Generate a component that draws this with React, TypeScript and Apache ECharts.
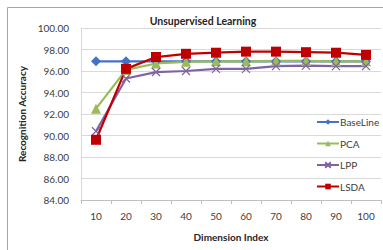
import React, { useEffect, useRef } from "react";
import * as echarts from "echarts";

const categories = ["10", "20", "30", "40", "50", "60", "70", "80", "90", "100"];
const baseLine = [96.9, 96.9, 96.9, 96.9, 96.9, 96.9, 96.9, 96.9, 96.9, 96.9];
const pca = [92.5, 96.1, 96.7, 96.85, 96.9, 96.9, 96.95, 96.95, 96.9, 96.9];
const lpp = [90.4, 95.3, 95.9, 96.0, 96.2, 96.2, 96.45, 96.5, 96.45, 96.45];
const lsda = [89.6, 96.2, 97.3, 97.6, 97.7, 97.8, 97.8, 97.75, 97.7, 97.5];
const seriesNames = ["BaseLine", "PCA", "LPP", "LSDA"];

const FONT = "Lato, 'Open Sans', sans-serif";

export default function App() {
  const ref = useRef<HTMLDivElement>(null);
  useEffect(() => {
    if (!ref.current) return;
    const chart = echarts.init(ref.current, null, { renderer: "svg" });
    const mk = (name: string, data: number[], color: string, symbol: string, size: number, extra: any = {}) => ({
      name,
      type: "line",
      data,
      symbol,
      symbolSize: size,
      lineStyle: { color, width: 2.25 },
      itemStyle: { color, ...extra },
      z: 3,
    });
    chart.setOption({
      animation: false,
      textStyle: { fontFamily: FONT },
      title: {
        text: "Unsupervised Learning",
        left: 198,
        textAlign: "center",
        top: 10,
        textStyle: { fontSize: 10.5, fontWeight: "bold", color: "#262626", fontFamily: FONT },
      },
      graphic: [
        {
          type: "rect",
          shape: { x: 7.5, y: 7.5, width: 420, height: 300 },
          style: { fill: "none", stroke: "#a6a6a6", lineWidth: 1 },
          silent: true,
        },
      ],
      legend: {
        data: seriesNames,
        orient: "vertical",
        left: 311,
        top: 112,
        itemWidth: 22,
        itemHeight: 7,
        itemGap: 11.5,
        textStyle: { fontSize: 10, color: "#404040", fontFamily: FONT, padding: [0, 0, 0, -4] },
      },
      grid: { left: 81, right: 2, top: 28, bottom: 50 },
      xAxis: {
        type: "category",
        data: categories,
        boundaryGap: true,
        name: "Dimension Index",
        nameLocation: "middle",
        nameGap: 32,
        nameTextStyle: { fontSize: 10, fontWeight: "bold", color: "#262626" },
        axisLine: { lineStyle: { color: "#bfbfbf", width: 1 } },
        axisTick: { show: true, length: 4, alignWithLabel: false, lineStyle: { color: "#bfbfbf" } },
        axisLabel: { fontSize: 10, color: "#404040", margin: 11 },
        splitLine: { show: false },
      },
      yAxis: {
        type: "value",
        min: 84,
        max: 100,
        interval: 2,
        name: "Recognition Accuracy",
        nameLocation: "middle",
        nameGap: 41,
        nameRotate: 90,
        nameTextStyle: { fontSize: 10, fontWeight: "bold", color: "#262626" },
        axisLine: { show: true, lineStyle: { color: "#d9d9d9" } },
        axisTick: { show: false },
        axisLabel: { fontSize: 10, color: "#404040", margin: 12, formatter: (v: number) => v.toFixed(2) },
        splitLine: { lineStyle: { color: "#d9d9d9", width: 1 } },
      },
      series: [
        mk("BaseLine", baseLine, "#4472C4", "diamond", 10),
        mk("PCA", pca, "#9BBB59", "triangle", 10),
        mk("LPP", lpp, "#8064A2", "path://M0,0L10,10M10,0L0,10", 8, {
          borderColor: "#8064A2",
          borderWidth: 1.3,
        }),
        mk("LSDA", lsda, "#C00000", "rect", 10),
      ],
    });
    return () => chart.dispose();
  }, []);
  return (
    <div
      ref={ref}
      style={{ position: "fixed", left: 0, top: 0, width: 383, height: 250, background: "#fff" }}
    />
  );
}
